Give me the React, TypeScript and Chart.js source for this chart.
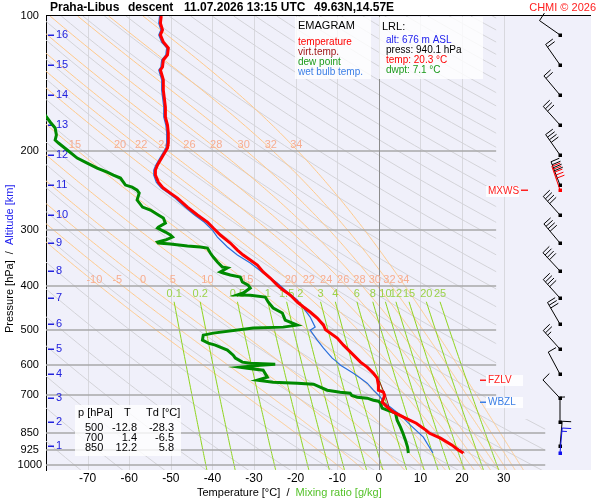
import React, { useEffect, useRef } from "react";
import { Chart, registerables } from "chart.js";

Chart.register(...registerables);

const FONT = '"Liberation Sans", Arial, Helvetica, sans-serif';

// ---------- axes ----------
const pressureTicks = [100, 200, 300, 400, 500, 600, 700, 850, 925, 1000];
const temperatureTicks = [-70, -60, -50, -40, -30, -20, -10, 0, 10, 20, 30];
const isotherms = [-70, -60, -50, -40, -30, -20, -10, 0, 10, 20, 30];

// ---------- sounding: temperature ----------
const tempP = [100, 103.7, 107.4, 110.2, 114.3, 117.8, 122.1, 125.3, 129.9, 131.9, 136.7, 138.8, 146.2, 151.4, 159.5, 167.9, 174.9, 182.2, 191.8, 196.8, 204, 209.3, 214.7, 220.3, 226.1, 234.4, 241.7, 248, 254.4, 266.4, 277.5, 287.7, 296.7, 307.5, 320.4, 332.1, 340.7, 349.5, 358.6, 371.7, 383.3, 397.4, 407.7, 418.3, 433.5, 444.8, 456.4, 470.7, 488.1, 500, 521.7, 540.8, 560.6, 590.1, 605.5, 624.4, 640.6, 664.1, 681.4, 688.4, 700, 724.6, 743.4, 762.8, 782.6, 807, 836.4, 850, 871.4, 903.2, 925, 940.1];
const tempT = [-52.3, -52.5, -52.0, -52.5, -51.8, -50.6, -50.8, -51.8, -52.0, -52.5, -52.0, -51.8, -51.8, -51.6, -51.3, -51.3, -50.8, -50.6, -50.6, -50.8, -51.8, -52.5, -53.2, -53.7, -53.7, -53.0, -51.8, -50.1, -48.4, -46.0, -43.6, -41.2, -39.8, -38.1, -35.7, -34.0, -32.6, -30.9, -29.2, -27.8, -26.1, -24.4, -23.0, -21.3, -19.6, -18.1, -16.5, -14.8, -13.3, -12.8, -10.0, -8.5, -6.8, -4.4, -2.8, -1.3, -0.4, -0.1, -0.1, 1.1, 1.4, 0.8, 2.0, 3.5, 5.9, 9.0, 11.3, 12.2, 14.8, 17.6, 19.0, 20.3];

// ---------- virtual temperature (low levels) ----------
const virtP = [600, 650, 700, 750, 800, 850, 900, 940.1];
const virtT = [-3.4, 0.1, 1.6, 2.6, 8.2, 12.5, 17.5, 20.6];

// ---------- dew point ----------
const dewP = [158, 165.3, 172.2, 177.6, 184.1, 188.9, 191.8, 198.8, 207.2, 212.6, 218.1, 222.6, 226.1, 229.6, 238, 240.5, 244.2, 248, 257, 266.4, 270.5, 277.5, 281.8, 289.2, 295.2, 296.7, 302.8, 307.5, 310.7, 315.5, 318.7, 320.4, 322, 325.3, 327, 328.7, 337.2, 344.2, 353.1, 362.3, 364.2, 371.7, 373.6, 377.5, 381.4, 391.3, 397.4, 403.5, 414, 418.3, 419, 422.6, 433.5, 447.1, 458.7, 475.5, 488.1, 493.1, 495.6, 508.5, 513.8, 527.1, 535.3, 540.8, 554.9, 569.3, 578.1, 590.1, 593.2, 596.2, 599.3, 605.5, 608.6, 614.9, 637.3, 647.2, 653.9, 657.3, 660.7, 670.9, 681.4, 688.4, 691.9, 700, 706.3, 709.9, 717.2, 720.9, 728.4, 747.3, 755, 758.9, 766.7, 794.7, 823.7, 850, 880.4, 912.5, 940.1];
const dewT = [-86, -80.4, -79.0, -77.8, -77.5, -77.8, -77.0, -74.9, -72.5, -70.1, -67.7, -65.3, -63.8, -62.1, -60.9, -59.3, -58.1, -57.6, -58.1, -56.8, -54.9, -53.0, -51.8, -51.3, -53.0, -53.2, -51.3, -50.1, -49.6, -51.3, -53.2, -53.0, -50.1, -46.0, -42.9, -41.2, -40.5, -39.8, -38.8, -37.6, -36.4, -38.1, -37.4, -35.7, -33.3, -32.8, -31.4, -30.9, -32.6, -34.0, -30.9, -27.3, -26.6, -25.4, -23.2, -22.5, -19.6, -23.0, -30.2, -39.8, -42.2, -42.4, -41.0, -39.3, -36.4, -35.0, -34.5, -32.8, -30.9, -24.9, -28.5, -33.3, -31.6, -27.8, -26.8, -29.2, -25.4, -19.6, -15.7, -14.1, -12.4, -9.3, -6.9, -6.5, -5.2, -2.8, -1.3, -0.1, 0.4, 0.8, 2.0, 2.8, 4.0, 4.4, 5.2, 5.8, 6.4, 6.9, 7.1];

// ---------- wet bulb ----------
const wetP = [100, 103.7, 107.4, 110.2, 114.3, 117.8, 122.1, 125.3, 129.9, 131.9, 136.7, 138.8, 146.2, 151.4, 159.5, 167.9, 174.9, 182.2, 191.8, 196.8, 204, 209.3, 214.7, 220.3, 226.1, 234.4, 241.7, 248, 254.4, 266.4, 277.5, 287.7, 299.8, 310.7, 327, 340.7, 354.9, 373.6, 393.3, 411.9, 429.1, 447.1, 468.2, 493.1, 500.8, 527.1, 549.2, 578.1, 590.1, 599.3, 624.4, 640.6, 657.3, 681.4, 706.3, 724.6, 743.4, 774.6, 815.3, 866.9, 940.1];
const wetT = [-52.7, -52.9, -52.4, -52.9, -52.2, -51.0, -51.2, -52.2, -52.4, -52.9, -52.4, -52.2, -52.2, -52.0, -51.7, -51.7, -51.2, -51.0, -51.0, -51.2, -52.2, -52.9, -53.6, -54.1, -54.1, -53.5, -52.3, -50.6, -49.0, -46.6, -44.3, -42.0, -40.0, -38.8, -36.4, -34.0, -30.9, -27.8, -24.4, -22.0, -19.6, -18.1, -16.5, -15.3, -16.5, -14.8, -13.3, -11.2, -10.0, -9.2, -6.1, -4.4, -2.8, -1.3, 0.4, 1.1, 2.8, 5.2, 7.6, 10.7, 13.0];

// ---------- altitude marks ----------
const altitudeKm = [16, 15, 14, 13, 12, 11, 10, 9, 8, 7, 6, 5, 4, 3, 2, 1];
const altitudeP = [110.2, 128.5, 150.0, 174.9, 204.0, 238.0, 277.5, 320.4, 369.8, 424.9, 485.6, 551.9, 627.6, 709.9, 802.8, 907.9];

// ---------- wind ----------
const windP = [110.2, 128.5, 150.0, 174.9, 204.0, 238.0, 277.5, 320.4, 369.8, 424.9, 485.6, 551.9, 627.6, 709.9, 802.8, 907.9, 940.1];
const windDir = [305, 325, 320, 318, 325, 339, 318, 320, 317, 318, 330, 318, 332, 317, 0, 5, 5];
const windKt = [10, 20, 20, 30, 40, 40, 40, 40, 40, 40, 30, 25, 10, 10, 5, 10, 15];
const mxwsP = 244;
const mxwsDir = 341;
const mxwsKt = 50;
const fzlvP = 647;
const wbzlP = 724;

// ---------- table ----------
const tableP = [500, 700, 850];
const tableT = ["-12.8", "1.4", "12.2"];
const tableTd = ["-28.3", "-6.5", "5.8"];

// ---------- reference lines ----------
const thetaW = [-10, -5, 0, 5, 10, 15, 20, 22, 24, 26, 28, 30, 32, 34];
const thetaWUpper = [15, 20, 22, 24, 26, 28, 30, 32, 34];
const mixRatios = [0.1, 0.2, 0.5, 1, 1.5, 2, 3, 4, 6, 8, 10, 12, 15, 20, 25];
const dryThetaMin = 200;
const dryThetaMax = 600;
const dryThetaStep = 10;

// ---------- thermodynamics for the diagram grid ----------
const satVap = (tc: number) => 6.112 * Math.exp((17.67 * tc) / (tc + 243.5));
function pseudoAdiabat(twC: number): [number, number][] {
  const Rd = 287.04, Cp = 1005.7, Lv = 2.501e6, eps = 0.622;
  const f = (tk: number, p: number) => {
    const e = satVap(tk - 273.15);
    const rs = (eps * e) / (p - e);
    return (Rd * tk + Lv * rs) / (p * (Cp + (Lv * Lv * rs * eps) / (Rd * tk * tk)));
  };
  const step = (tk: number, p: number, dp: number) => {
    const k1 = f(tk, p);
    const k2 = f(tk + (k1 * dp) / 2, p + dp / 2);
    return tk + k2 * dp;
  };
  const up: [number, number][] = [];
  let tk = twC + 273.15, p = 1000;
  up.push([tk - 273.15, p]);
  while (p > 100) { tk = step(tk, p, -2); p -= 2; up.push([tk - 273.15, p]); }
  const down: [number, number][] = [];
  tk = twC + 273.15; p = 1000;
  while (p < 1040) { tk = step(tk, p, 2); p += 2; down.push([tk - 273.15, p]); }
  return [...down.reverse(), ...up];
}
const mixingT = (w: number, p: number) => {
  const e = (w * p) / (622 + w);
  const l = Math.log(e / 6.112);
  return (243.5 * l) / (17.67 - l);
};
const tAt = (pts: [number, number][], p: number) => {
  for (let i = 1; i < pts.length; i++) {
    const [t0, p0] = pts[i - 1], [t1, p1] = pts[i];
    if ((p0 - p) * (p1 - p) <= 0) return t0 + ((t1 - t0) * (p - p0)) / (p1 - p0 || 1);
  }
  return pts[0][0];
};

function drawBarb(ctx: CanvasRenderingContext2D, x: number, y: number, dir: number, kt: number, color: string) {
  const L = 25;
  const a = (dir * Math.PI) / 180;
  const ux = Math.sin(a), uy = -Math.cos(a);
  const tx = x + ux * L, ty = y + uy * L;
  const b = (88 * Math.PI) / 180;
  const bx = ux * Math.cos(b) - uy * Math.sin(b);
  const by = ux * Math.sin(b) + uy * Math.cos(b);
  ctx.strokeStyle = color;
  ctx.lineWidth = 1;
  ctx.beginPath();
  ctx.moveTo(x, y);
  ctx.lineTo(tx, ty);
  const full = Math.floor(kt / 10);
  const half = kt % 10 >= 5;
  let i = 0;
  for (; i < full; i++) {
    const sx = tx - ux * i * 3.2, sy = ty - uy * i * 3.2;
    ctx.moveTo(sx, sy);
    ctx.lineTo(sx + bx * 9, sy + by * 9);
  }
  if (half) {
    const sx = tx - ux * i * 3.2, sy = ty - uy * i * 3.2;
    ctx.moveTo(sx, sy);
    ctx.lineTo(sx + bx * 5, sy + by * 5);
  }
  ctx.stroke();
  ctx.fillStyle = color;
  ctx.fillRect(Math.round(x) - 1.5, Math.round(y) - 1.5, 3.5, 3.5);
}

const gridPlugin = {
  id: "emagramGrid",
  beforeDraw(chart: any) {
    const { ctx, chartArea: a } = chart;
    ctx.save();
    ctx.fillStyle = "#ffffff";
    ctx.fillRect(0, 0, chart.width, chart.height);
    ctx.fillStyle = "#f0f0fa";
    ctx.fillRect(a.left, a.top, a.right - a.left, a.bottom - a.top);
    ctx.restore();
  },
  beforeDatasetsDraw(chart: any) {
    const { ctx, chartArea: a } = chart;
    const xs = chart.scales.x, ys = chart.scales.y;
    const X = (t: number) => xs.getPixelForValue(t);
    const Y = (p: number) => ys.getPixelForValue(p);
    const poly = (pts: [number, number][]) => {
      ctx.beginPath();
      pts.forEach(([t, p], i) => (i ? ctx.lineTo(X(t), Y(p)) : ctx.moveTo(X(t), Y(p))));
      ctx.stroke();
    };
    ctx.save();
    ctx.beginPath();
    ctx.rect(a.left, a.top, a.right - a.left, a.bottom - a.top);
    ctx.clip();

    // isotherms
    ctx.lineWidth = 1;
    ctx.strokeStyle = "#d8d8de";
    for (const t of isotherms) {
      if (t === 0) continue;
      const x = Math.round(X(t)) + 0.5;
      ctx.beginPath(); ctx.moveTo(x, a.top); ctx.lineTo(x, a.bottom); ctx.stroke();
    }

    ctx.save();
    ctx.beginPath();
    ctx.rect(a.left, a.top, X(28.2) - a.left, a.bottom - a.top);
    ctx.rect(a.left, Y(790), X(40) - a.left, a.bottom - Y(790));
    ctx.clip();

    // dry adiabats
    ctx.strokeStyle = "#d3d3d8";
    ctx.lineWidth = 1;
    for (let th = dryThetaMin; th <= dryThetaMax; th += dryThetaStep) {
      const pts: [number, number][] = [];
      for (let k = 0; k <= 60; k++) {
        const p = 100 * Math.pow(10.4, k / 60);
        pts.push([th * Math.pow(p / 1000, 0.2857) - 273.15, p]);
      }
      poly(pts);
    }

    // moist adiabats
    const moist = thetaW.map((tw) => pseudoAdiabat(tw));
    ctx.strokeStyle = "#ffc98a";
    moist.forEach((pts) => poly(pts));

    // mixing ratio lines
    ctx.strokeStyle = "#8fd41e";
    for (const w of mixRatios) {
      const pts: [number, number][] = [];
      for (let p = 433; p <= 1040; p += 10) pts.push([mixingT(w, p), p]);
      poly(pts);
    }

    // isobars
    ctx.strokeStyle = "#a8a8a8";
    ctx.lineWidth = 1.5;
    for (const p of pressureTicks) {
      if (p === 100) continue;
      const y = Math.round(Y(p));
      ctx.beginPath(); ctx.moveTo(a.left, y); ctx.lineTo(a.right, y); ctx.stroke();
    }
    ctx.restore();

    // 0 degC isotherm
    ctx.strokeStyle = "#8c8c8c";
    ctx.lineWidth = 1;
    const x0 = Math.round(X(0)) + 0.5;
    ctx.beginPath(); ctx.moveTo(x0, a.top); ctx.lineTo(x0, a.bottom); ctx.stroke();

    // moist adiabat labels
    ctx.font = `11px ${FONT}`;
    ctx.textAlign = "center";
    ctx.textBaseline = "middle";
    ctx.fillStyle = "#f7ad90";
    thetaW.forEach((tw, i) => {
      ctx.fillText(String(tw), X(tAt(moist[i], 387)) + 2.5, Y(387));
      if (thetaWUpper.includes(tw)) ctx.fillText(String(tw), X(tAt(moist[i], 194)) + 4, Y(194));
    });
    // mixing labels
    ctx.fillStyle = "#9bd24a";
    for (const w of mixRatios) ctx.fillText(String(w), X(mixingT(w, 433)), Y(416));

    // altitude marks
    ctx.fillStyle = "#2222dd";
    ctx.textAlign = "left";
    altitudeKm.forEach((km, i) => {
      const y = Y(altitudeP[i]);
      ctx.fillRect(a.left + 2, Math.round(y) - 0.5, 6, 1.5);
      ctx.fillText(String(km), a.left + 10, y);
    });
    ctx.restore();
  },
  afterDatasetsDraw(chart: any) {
    const { ctx, chartArea: a } = chart;
    const ys = chart.scales.y;
    const Y = (p: number) => ys.getPixelForValue(p);
    ctx.save();
    // top frame line
    ctx.strokeStyle = "#000";
    ctx.lineWidth = 1;
    ctx.beginPath(); ctx.moveTo(a.left, a.top - 0.5); ctx.lineTo(a.right, a.top - 0.5); ctx.stroke();

    // title
    ctx.textBaseline = "middle";
    ctx.textAlign = "left";
    ctx.fillStyle = "#000";
    ctx.font = `bold 12px ${FONT}`;
    ctx.fillText("Praha-Libus", 50, 8);
    ctx.fillText("descent", 128, 8);
    ctx.fillText("11.07.2026 13:15 UTC", 184, 8);
    ctx.fillText("49.63N,14.57E", 314, 8);
    ctx.font = `11px ${FONT}`;
    ctx.fillStyle = "#ff2020";
    ctx.textAlign = "right";
    ctx.fillText("CHMI \u00a9 2026", 596, 8);

    // legend boxes
    ctx.fillStyle = "rgba(255,255,255,0.8)";
    ctx.fillRect(295, a.top + 1, 76, 62);
    ctx.fillRect(379, a.top + 1, 104, 62);
    ctx.textAlign = "left";
    ctx.font = `11px ${FONT}`;
    ctx.fillStyle = "#000";
    ctx.fillText("EMAGRAM", 298, 26);
    ctx.font = `10px ${FONT}`;
    const leg: [string, string][] = [["temperature", "#ff0000"], ["virt.temp.", "#a01818"], ["dew point", "#1a9a1a"], ["wet bulb temp.", "#3a7ee6"]];
    leg.forEach(([t, c], i) => { ctx.fillStyle = c; ctx.fillText(t, 298, 42 + i * 10); });
    ctx.font = `11px ${FONT}`;
    ctx.fillStyle = "#000";
    ctx.fillText("LRL:", 382, 27);
    ctx.font = `10px ${FONT}`;
    const lrl: [string, string][] = [["alt: 676 m ASL", "#2222ee"], ["press: 940.1 hPa", "#000000"], ["temp: 20.3 \u00b0C", "#ff0000"], ["dwpt: 7.1 \u00b0C", "#1a9a1a"]];
    lrl.forEach(([t, c], i) => { ctx.fillStyle = c; ctx.fillText(t, 386, 40 + i * 10); });

    // table
    ctx.fillStyle = "rgba(255,255,255,0.8)";
    ctx.fillRect(75, 405, 106, 51);
    ctx.fillStyle = "#000";
    ctx.font = `11px ${FONT}`;
    ctx.fillText("p [hPa]", 78, 413);
    ctx.fillText("T", 124, 413);
    ctx.fillText("Td [\u00b0C]", 146, 413);
    tableP.forEach((p, i) => {
      const y = 428 + i * 10;
      ctx.textAlign = "left";
      ctx.fillText(String(p), 85, y);
      ctx.textAlign = "right";
      ctx.fillText(tableT[i], 137, y);
      ctx.fillText(tableTd[i], 174, y);
    });

    // level labels
    const levelLabel = (p: number, text: string, color: string, dashLeft: boolean) => {
      const y = Math.round(Y(p));
      ctx.font = `10px ${FONT}`;
      ctx.textAlign = "left";
      if (dashLeft) {
        ctx.fillStyle = "rgba(255,255,255,0.85)";
        ctx.fillRect(486, y - 5, 37, 11);
        ctx.fillStyle = color;
        ctx.fillRect(480, y - 0.5, 6, 1.5);
        ctx.fillText(text, 488, y + 0.5);
      } else {
        ctx.fillStyle = "rgba(255,255,255,0.85)";
        ctx.fillRect(486, y - 4, 33, 11);
        ctx.fillStyle = color;
        ctx.fillText(text, 488, y + 1);
        ctx.fillRect(521, y - 0.5, 7, 1.5);
      }
    };
    levelLabel(mxwsP, "MXWS", "#ff2020", false);
    levelLabel(fzlvP, "FZLV", "#ff2020", true);
    levelLabel(wbzlP, "WBZL", "#3a7ee6", true);

    // wind barbs
    const bx = a.right - 31;
    windP.forEach((p, i) => {
      drawBarb(ctx, bx, Y(p), windDir[i], windKt[i], i === windP.length - 1 ? "#1010ee" : "#000000");
    });
    drawBarb(ctx, bx, Y(mxwsP), mxwsDir, mxwsKt, "#ff0000");

    // axis titles
    ctx.font = `11px ${FONT}`;
    ctx.textAlign = "left";
    ctx.fillStyle = "#000";
    const t1 = "Temperature [\u00b0C]  /  ";
    ctx.fillText(t1, 197, 493);
    ctx.fillStyle = "#55c22a";
    ctx.fillText("Mixing ratio [g/kg]", 197 + ctx.measureText(t1).width, 493);

    ctx.save();
    ctx.translate(10, 333);
    ctx.rotate(-Math.PI / 2);
    ctx.fillStyle = "#000";
    const t2 = "Pressure [hPa]  /  ";
    ctx.fillText(t2, 0, 0);
    ctx.fillStyle = "#2222ee";
    ctx.fillText("Altitude [km]", ctx.measureText(t2).width, 0);
    ctx.restore();

    ctx.restore();
  },
};

const toPts = (ps: number[], ts: number[]) => ps.map((p, i) => ({ x: ts[i], y: p }));

export default function App() {
  const ref = useRef<HTMLCanvasElement | null>(null);
  useEffect(() => {
    if (!ref.current) return;
    Chart.defaults.font.family = FONT;
    const line = (label: string, data: any[], color: string, width: number) => ({
      label, data, borderColor: color, backgroundColor: color, borderWidth: width,
      showLine: true, pointRadius: 0, tension: 0, clip: 0,
    });
    const chart = new Chart(ref.current, {
      type: "scatter",
      data: {
        datasets: [
          line("temperature", toPts(tempP, tempT), "#ff0000", 3),
          line("virt.temp.", toPts(virtP, virtT), "#a01818", 1),
          line("wet bulb temp.", toPts(wetP, wetT), "#2a6fdc", 1.2),
          line("dew point", toPts(dewP, dewT), "#008a00", 3),
        ] as any,
      },
      options: {
        animation: false,
        responsive: false,
        events: [],
        layout: { padding: { top: 16, right: 9, left: 0, bottom: 0 } },
        plugins: { legend: { display: false }, tooltip: { enabled: false }, title: { display: false } },
        scales: {
          x: {
            type: "linear", min: -80, max: 51, position: "bottom",
            afterBuildTicks: (s: any) => { s.ticks = temperatureTicks.map((v) => ({ value: v })); },
            afterFit: (s: any) => { s.height = 30; },
            grid: { display: false, drawTicks: false },
            border: { display: false },
            ticks: { font: { size: 12 }, color: "#000", padding: 1, maxRotation: 0, autoSkip: false, callback: (v: any) => String(v) },
          },
          y: {
            type: "logarithmic", min: 100, max: 1026, reverse: true, position: "left",
            afterBuildTicks: (s: any) => { s.ticks = pressureTicks.map((v) => ({ value: v })); },
            afterFit: (s: any) => { s.width = 46; },
            grid: { display: false, drawTicks: false },
            border: { display: true, color: "#000", width: 1 },
            ticks: { font: { size: 11 }, color: "#000", crossAlign: "center", padding: 4, autoSkip: false, callback: (v: any) => String(v) },
          },
        },
      } as any,
      plugins: [gridPlugin],
    });
    return () => chart.destroy();
  }, []);
  return (
    <div style={{ position: "absolute", left: 0, top: 0, width: 600, height: 500, background: "#fff" }}>
      <canvas ref={ref} width={600} height={500} style={{ display: "block" }} />
    </div>
  );
}
